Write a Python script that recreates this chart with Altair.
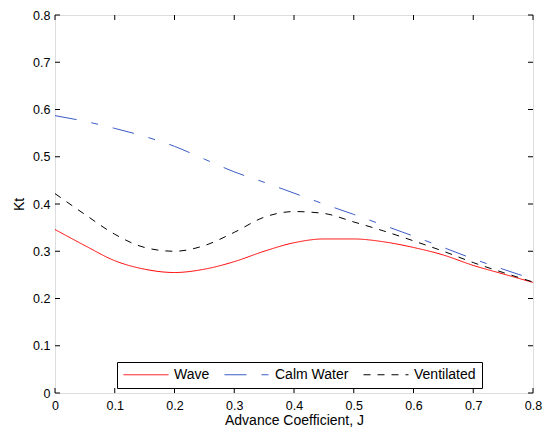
import altair as alt
import pandas as pd

J = [0.0, 0.05, 0.1, 0.15, 0.2, 0.25, 0.3, 0.35, 0.4, 0.45, 0.5, 0.55, 0.6, 0.65, 0.7, 0.75, 0.8]
wave = [0.346, 0.312, 0.280, 0.262, 0.255, 0.262, 0.278, 0.300, 0.318, 0.326, 0.326, 0.320, 0.308, 0.292, 0.270, 0.252, 0.234]
calm = [0.587, 0.575, 0.560, 0.543, 0.522, 0.495, 0.468, 0.446, 0.423, 0.400, 0.378, 0.355, 0.332, 0.308, 0.284, 0.262, 0.241]
vent = [0.422, 0.378, 0.336, 0.308, 0.300, 0.312, 0.340, 0.372, 0.384, 0.380, 0.362, 0.343, 0.322, 0.300, 0.276, 0.255, 0.235]
series = ["Wave", "Calm Water", "Ventilated"]
ticks = [0.0, 0.1, 0.2, 0.3, 0.4, 0.5, 0.6, 0.7, 0.8]

rows = []
for name, vals in zip(series, [wave, calm, vent]):
    for j, v in zip(J, vals):
        rows.append({"J": j, "Kt": v, "series": name})
df = pd.DataFrame(rows)
tdf = pd.DataFrame({"t": ticks})

W, H = 478, 378
FONT = "Liberation Sans"

xs = alt.Scale(domain=[0, 0.8], nice=False)
ys = alt.Scale(domain=[0, 0.8], nice=False)

leg = dict(title=None, orient="none", legendX=62, legendY=347,
           direction="horizontal", columns=3, symbolType="stroke",
           symbolSize=2025, symbolStrokeWidth=1, labelFontSize=14,
           labelFont=FONT, labelColor="black", strokeColor="black",
           fillColor="white", padding=6, columnPadding=14,
           labelOffset=5, clipHeight=13)

lines = alt.Chart(df).mark_line(strokeWidth=1, interpolate="monotone").encode(
    x=alt.X("J:Q", scale=xs, title="Advance Coefficient, J",
            axis=alt.Axis(values=ticks, format=".1~f", ticks=False, domain=False, grid=False,
                          labelPadding=6, titlePadding=2, labelFontSize=12.5, titleFontSize=14,
                          titleFontWeight="normal", labelFont=FONT, titleFont=FONT,
                          labelColor="black", titleColor="black", labelFlush=False)),
    y=alt.Y("Kt:Q", scale=ys, title="Kt",
            axis=alt.Axis(values=ticks, format=".1~f", ticks=False, domain=False, grid=False,
                          labelPadding=5, titlePadding=6, labelFontSize=12.5, titleFontSize=14,
                          titleFontWeight="normal", labelFont=FONT, titleFont=FONT,
                          labelColor="black", titleColor="black", labelFlush=False)),
    color=alt.Color("series:N", scale=alt.Scale(domain=series, range=["#ff0000", "#3b5cc6", "#000000"]),
                    legend=alt.Legend(**leg)),
    strokeDash=alt.StrokeDash("series:N", scale=alt.Scale(domain=series, range=[[1, 0], [22, 15, 7, 15], [7, 7]]),
                              legend=alt.Legend(**leg)),
)

base = alt.Chart(tdf)
bottom = base.mark_rule(color="black", strokeWidth=1).encode(x=alt.X("t:Q", scale=xs), y=alt.value(H), y2=alt.value(H - 5))
top = base.mark_rule(color="black", strokeWidth=1).encode(x=alt.X("t:Q", scale=xs), y=alt.value(0), y2=alt.value(5))
left = base.mark_rule(color="black", strokeWidth=1).encode(y=alt.Y("t:Q", scale=ys), x=alt.value(0), x2=alt.value(5))
right = base.mark_rule(color="black", strokeWidth=1).encode(y=alt.Y("t:Q", scale=ys), x=alt.value(W), x2=alt.value(W - 5))

chart = alt.layer(lines, bottom, top, left, right).properties(
    width=W, height=H,
    autosize=alt.AutoSizeParams(type="none"),
    padding={"left": 47, "top": 7, "right": 9, "bottom": 35},
).configure_view(stroke="black", strokeWidth=1).configure(background="white")

chart.save("out.html", embed_options={"renderer": "svg", "actions": False})
